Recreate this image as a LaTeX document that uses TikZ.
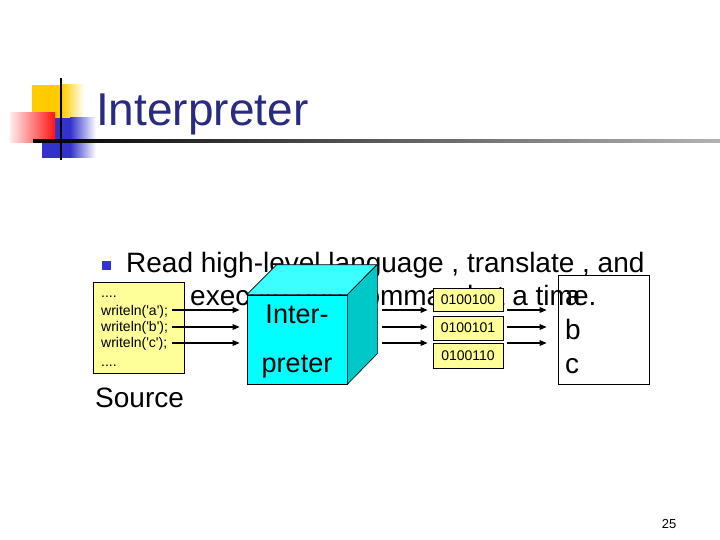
\documentclass[tikz,border=0pt]{standalone}
\usepackage{fontspec}
\setmainfont{Liberation Sans}
\usetikzlibrary{arrows.meta}
\definecolor{titleblue}{RGB}{42,42,128}
\definecolor{bulletblue}{RGB}{51,51,204}
\definecolor{paleyellow}{RGB}{255,255,153}
\definecolor{cubefront}{RGB}{0,255,255}
\definecolor{cubetop}{RGB}{60,255,255}
\definecolor{cubeside}{RGB}{0,200,200}
\definecolor{logoyellow}{RGB}{255,204,0}
\definecolor{logored}{RGB}{255,20,20}
\definecolor{logoblue}{RGB}{51,51,204}
\tikzset{
  arr/.style={line width=1.4pt,-{Triangle[length=7pt,width=5.5pt]}},
  binbox/.style={draw=black,line width=0.6pt,fill=paleyellow,minimum width=70pt,minimum height=24pt,inner sep=0pt,font=\fontsize{14}{16}\selectfont},
  srcline/.style={anchor=base west,inner sep=0pt,font=\fontsize{14}{16}\selectfont},
  bigtext/.style={inner sep=0pt,font=\fontsize{28}{32}\selectfont},
}
\begin{document}
\begin{tikzpicture}[x=1pt,y=-1pt]
\useasboundingbox (0,0) rectangle (720,540);
\fill[white] (0,0) rectangle (720,540);
% logo
\fill[logoyellow] (32,85) rectangle (62,118);
\shade[left color=logoyellow,right color=white] (62,85) rectangle (84,118);
\fill[logoblue] (42,118) rectangle (70,158);
\shade[left color=logoblue,right color=white] (70,118) rectangle (96,158);
\shade[left color=red!8,right color=logored] (10,113) rectangle (55,143);
\shade[left color=black,right color=black!30] (33,139.8) rectangle (720,142.4);
\draw[line width=2.5pt] (61,78) -- (61,160);
% title
\node[anchor=base west,inner sep=0pt,text=titleblue,font=\fontsize{46}{50}\selectfont] (title) at (96,126) {Interpreter};
% bullet text
\node[fill=bulletblue,minimum size=9pt,inner sep=0pt] (bullet) at (106,265) {};
\node[bigtext,anchor=base west] (line1) at (126,272) {Read high-level language , translate , and};
\node[bigtext,anchor=base west] (line2) at (190,305) {execute one command at a time.};
% source box
\node[draw=black,line width=0.6pt,fill=paleyellow,minimum width=91pt,minimum height=91pt,inner sep=0pt] (src) at (138.5,327.5) {};
\node[srcline] (d1) at (101,297) {....};
\node[srcline] (wa) at (101,315) {writeln(\textquotesingle a\textquotesingle);};
\node[srcline] (wb) at (101,331) {writeln(\textquotesingle b\textquotesingle);};
\node[srcline] (wc) at (101,347) {writeln(\textquotesingle c\textquotesingle);};
\node[srcline] (d2) at (101,366) {....};
\node[bigtext,anchor=base west] (source) at (95,407) {Source};
% cube
\node[draw=black,line width=0.6pt,fill=cubefront,minimum width=100pt,minimum height=89pt,inner sep=0pt] (cube) at (297,339.5) {};
\filldraw[fill=cubetop,draw=black,line width=0.6pt] (cube.north west) -- ++(30,-30) -- ++(100,0) -- (cube.north east) -- cycle;
\filldraw[fill=cubeside,draw=black,line width=0.6pt] (cube.north east) -- ++(30,-30) -- ++(0,89) -- (cube.south east) -- cycle;
\node[bigtext,anchor=base,font=\fontsize{27}{30}\selectfont] (inter) at (297,323) {Inter-};
\node[bigtext,anchor=base,font=\fontsize{27}{30}\selectfont] (preter) at (297,372) {preter};
% binary boxes
\node[binbox,minimum height=23pt] (bin1) at (468,299.5) {0100100};
\node[binbox] (bin2) at (468,328) {0100101};
\node[binbox,minimum height=25pt] (bin3) at (468,355.5) {0100110};
% output box
\node[draw=black,line width=0.6pt,minimum width=91pt,minimum height=109pt,inner sep=0pt] (out) at (603.5,329.5) {};
\node[bigtext,anchor=base west] (oa) at (565,305) {a};
\node[bigtext,anchor=base west] (ob) at (565,339) {b};
\node[bigtext,anchor=base west] (oc) at (565,373) {c};
% arrows
\coordinate (s1) at (172,310);
\coordinate (s2) at (172,327);
\coordinate (s3) at (172,343);
\draw[arr,shorten >=7pt] (s1) -- (s1 -| cube.west);
\draw[arr,shorten >=7pt] (s2) -- (s2 -| cube.west);
\draw[arr,shorten >=7pt] (s3) -- (s3 -| cube.west);
\coordinate (c1) at (382,310);
\coordinate (c2) at (382,327);
\coordinate (c3) at (382,343);
\draw[arr,shorten >=5pt] (c1) -- (c1 -| bin1.west);
\draw[arr,shorten >=5pt] (c2) -- (c2 -| bin2.west);
\draw[arr,shorten >=5pt] (c3) -- (c3 -| bin3.west);
\coordinate (b1) at (507,310);
\coordinate (b2) at (507,327);
\coordinate (b3) at (507,343);
\draw[arr,shorten >=11pt] (b1) -- (b1 -| out.west);
\draw[arr,shorten >=11pt] (b2) -- (b2 -| out.west);
\draw[arr,shorten >=11pt] (b3) -- (b3 -| out.west);
% page number
\node[anchor=base,inner sep=0pt,font=\fontsize{13}{15}\selectfont] (pnum) at (669,528) {25};
\end{tikzpicture}
\end{document}
